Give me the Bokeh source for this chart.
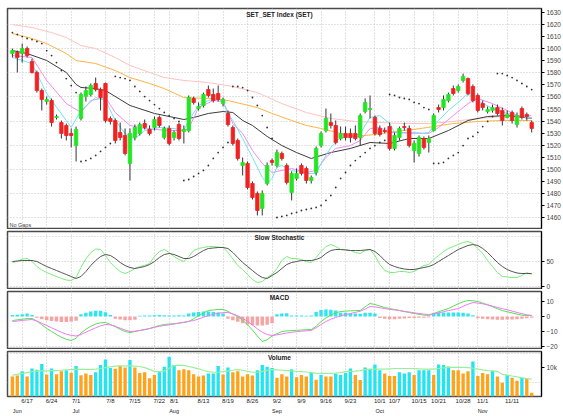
from bokeh.plotting import figure
from bokeh.models import Range1d, FixedTicker, LinearAxis, Label, ColumnDataSource, NumeralTickFormatter
from bokeh.layouts import column
from bokeh.embed import file_html
from bokeh.resources import INLINE

# ---------------- data ----------------
open_ = [1595.9, 1596.7, 1595.9, 1600.0, 1589.3, 1580.2, 1565.3, 1556.2, 1557.0, 1543.0,
         1538.8, 1536.4, 1529.8, 1519.8, 1542.2, 1560.3, 1562.0, 1571.1, 1566.1, 1571.1,
         1542.2, 1540.5, 1530.6, 1528.1, 1505.0, 1526.4, 1529.8, 1538.0, 1533.1, 1534.7,
         1543.0, 1526.4, 1533.9, 1526.4, 1537.2, 1531.4, 1532.2, 1558.7, 1550.4, 1552.9,
         1566.1, 1562.0, 1562.8, 1554.5, 1546.3, 1534.7, 1524.0, 1503.3, 1505.0, 1488.4,
         1480.2, 1467.8, 1488.4, 1507.4, 1503.3, 1513.2, 1503.3, 1481.0, 1492.6, 1503.3,
         1500.8, 1490.9, 1497.5, 1519.8, 1532.2, 1538.8, 1536.4, 1525.6, 1529.8, 1529.8,
         1529.8, 1526.4, 1547.9, 1549.6, 1543.0, 1533.9, 1532.2, 1535.5, 1517.4, 1526.4,
         1535.5, 1533.9, 1515.7, 1513.2, 1525.6, 1522.3, 1532.2, 1551.2, 1551.2, 1557.0,
         1566.9, 1565.3, 1573.6, 1575.2, 1568.6, 1561.2, 1554.5, 1547.9, 1548.8, 1551.2,
         1548.8, 1543.0, 1547.1, 1537.2, 1550.4, 1545.5, 1538.8]
close_ = [1598.3, 1592.6, 1600.0, 1594.2, 1580.2, 1565.3, 1557.9, 1557.9, 1538.8, 1543.8,
          1529.8, 1528.1, 1528.1, 1533.1, 1562.0, 1565.3, 1569.4, 1566.1, 1559.5, 1540.5,
          1539.7, 1524.0, 1526.4, 1513.2, 1529.8, 1534.7, 1537.2, 1534.7, 1529.8, 1541.3,
          1536.4, 1533.9, 1521.5, 1530.6, 1525.6, 1533.1, 1559.5, 1555.4, 1552.1, 1562.0,
          1561.2, 1557.0, 1557.9, 1557.9, 1537.2, 1521.5, 1509.1, 1505.8, 1485.1, 1476.9,
          1466.1, 1480.2, 1503.3, 1505.8, 1514.0, 1509.1, 1489.3, 1496.7, 1496.7, 1496.7,
          1490.9, 1493.4, 1517.4, 1529.8, 1542.2, 1536.4, 1522.3, 1529.8, 1526.4, 1526.4,
          1525.6, 1544.6, 1555.4, 1550.4, 1529.8, 1528.9, 1531.4, 1517.4, 1528.1, 1533.9,
          1534.7, 1519.8, 1521.5, 1526.4, 1518.2, 1525.6, 1544.6, 1549.6, 1557.9, 1562.0,
          1562.8, 1568.6, 1576.9, 1562.8, 1557.0, 1548.8, 1551.2, 1549.6, 1551.2, 1546.3,
          1540.5, 1545.5, 1540.5, 1544.6, 1543.0, 1543.8, 1533.9]
high_ = [1600.0, 1598.3, 1604.1, 1601.7, 1591.7, 1581.8, 1566.9, 1560.3, 1558.7, 1545.5,
         1540.5, 1538.0, 1533.9, 1535.5, 1563.6, 1568.6, 1571.1, 1576.0, 1567.7, 1571.9,
         1543.8, 1542.2, 1538.8, 1533.9, 1533.9, 1537.2, 1538.8, 1541.3, 1536.4, 1543.8,
         1544.6, 1535.5, 1536.4, 1532.2, 1538.8, 1536.4, 1561.2, 1560.3, 1555.4, 1563.6,
         1569.4, 1566.9, 1569.4, 1559.5, 1548.8, 1536.4, 1525.6, 1509.9, 1506.6, 1490.1,
         1481.8, 1482.7, 1505.8, 1509.1, 1516.5, 1514.8, 1505.0, 1498.4, 1500.8, 1505.0,
         1502.5, 1495.0, 1519.0, 1531.4, 1550.4, 1546.3, 1540.5, 1535.5, 1535.5, 1533.9,
         1536.4, 1546.3, 1558.7, 1561.2, 1544.6, 1536.4, 1534.7, 1538.8, 1530.6, 1535.5,
         1538.8, 1536.4, 1524.0, 1528.1, 1527.3, 1528.1, 1546.3, 1553.7, 1561.2, 1563.6,
         1569.4, 1570.3, 1579.3, 1576.0, 1570.3, 1562.8, 1557.0, 1552.1, 1553.7, 1553.7,
         1551.2, 1548.8, 1548.8, 1547.1, 1552.1, 1547.1, 1540.5]
low_ = [1592.6, 1580.2, 1588.4, 1592.6, 1579.3, 1563.6, 1548.8, 1553.7, 1535.5, 1541.3,
        1525.6, 1524.0, 1518.2, 1506.6, 1540.5, 1556.2, 1560.3, 1564.5, 1548.8, 1538.8,
        1537.2, 1521.5, 1524.0, 1511.6, 1490.9, 1524.0, 1528.1, 1533.1, 1528.1, 1532.2,
        1534.7, 1524.8, 1519.8, 1524.0, 1524.0, 1521.5, 1530.6, 1553.7, 1548.8, 1551.2,
        1559.5, 1555.4, 1556.2, 1552.1, 1535.5, 1519.8, 1507.4, 1495.0, 1483.5, 1475.2,
        1462.0, 1462.0, 1486.8, 1503.3, 1501.7, 1507.4, 1487.6, 1474.4, 1490.9, 1495.0,
        1488.4, 1488.4, 1495.0, 1518.2, 1530.6, 1533.9, 1520.7, 1524.0, 1524.0, 1522.3,
        1524.0, 1519.8, 1546.3, 1542.2, 1528.1, 1527.3, 1529.8, 1515.7, 1515.7, 1524.0,
        1532.2, 1518.2, 1505.8, 1510.7, 1516.5, 1514.0, 1531.4, 1547.1, 1548.8, 1555.4,
        1561.2, 1563.6, 1571.9, 1561.2, 1555.4, 1547.1, 1548.8, 1546.3, 1547.1, 1544.6,
        1536.4, 1542.2, 1538.0, 1534.7, 1541.3, 1540.5, 1530.6]

sar = [1613.2, 1611.6, 1609.9, 1608.3, 1607.4, 1605.8, 1604.1, 1598.3, 1594.2, 1588.4,
       1581.8, 1575.2, 1569.4, 1563.6, 1506.6, 1507.4, 1509.1, 1511.6, 1514.9, 1518.2,
       1521.5, 1576.9, 1576.0, 1575.2, 1573.6, 1568.6, 1564.5, 1560.3, 1557.0, 1553.7,
       1550.4, 1547.1, 1544.6, 1542.2, 1539.7, 1490.9, 1491.7, 1494.2, 1496.7, 1499.2,
       1503.3, 1509.1, 1514.0, 1518.2, 1522.3, 1568.6, 1568.6, 1567.7, 1565.3, 1559.5,
       1552.9, 1544.6, 1534.7, 1525.6, 1460.3, 1461.2, 1462.0, 1463.6, 1464.5, 1466.1,
       1466.9, 1467.8, 1468.6, 1470.3, 1474.4, 1478.5, 1485.1, 1492.6, 1497.5, 1503.3,
       1507.4, 1510.7, 1514.0, 1517.4, 1519.8, 1522.3, 1524.0, 1562.0, 1561.2, 1559.5,
       1558.7, 1557.9, 1555.4, 1554.5, 1551.2, 1549.6, 1505.0, 1505.0, 1505.8, 1509.1,
       1511.6, 1514.0, 1519.8, 1525.6, 1527.3, 1530.6, 1535.5, 1539.7, 1543.8, 1579.3,
       1579.3, 1577.7, 1576.0, 1573.6, 1571.1, 1568.6, 1566.1]

# moving averages (sampled where read)
pink_idx = [0, 4, 8, 11, 14, 17, 21, 24, 28, 31, 35, 40, 45, 50, 55, 60, 65, 70, 75, 80, 85, 90, 95, 100, 106]
pink_val = [1619.8, 1617.4, 1613.2, 1609.1, 1602.5, 1600.0, 1592.6, 1586.0, 1580.2, 1576.0, 1573.6, 1571.9,
            1568.6, 1563.6, 1554.5, 1547.1, 1542.2, 1539.7, 1538.8, 1538.0, 1538.0, 1539.7, 1542.2, 1543.8, 1544.6]
orange_idx = [0, 4, 7, 11, 13, 17, 21, 24, 28, 31, 35, 40, 44, 50, 53, 57, 60, 63, 67, 70, 74, 78, 82, 86, 90, 95, 100, 106]
orange_val = [1612.4, 1608.3, 1604.1, 1595.9, 1590.1, 1587.6, 1581.8, 1576.0, 1571.1, 1566.9, 1559.5, 1558.7,
              1557.0, 1551.2, 1546.3, 1540.5, 1536.4, 1533.9, 1529.8, 1527.3, 1528.9, 1531.4, 1533.1, 1535.5,
              1538.0, 1539.7, 1540.5, 1540.5]
black_idx = [0, 3, 7, 11, 13, 14, 17, 19, 24, 29, 33, 35, 37, 40, 43, 45, 47, 49, 52, 55, 58, 61, 65, 69, 73,
             77, 81, 85, 89, 93, 97, 101, 106]
black_val = [1598.3, 1595.9, 1590.1, 1580.2, 1570.3, 1567.8, 1566.9, 1565.3, 1552.9, 1546.3, 1543.0, 1541.3,
             1543.0, 1546.3, 1547.9, 1547.1, 1540.5, 1536.4, 1527.3, 1519.8, 1514.0, 1509.1, 1514.0, 1517.4,
             1522.3, 1521.5, 1525.6, 1525.6, 1532.2, 1540.5, 1543.8, 1544.6, 1542.2]
magenta_idx = [0, 4, 7, 11, 14, 16, 19, 21, 24, 27, 32, 35, 36, 38, 41, 43, 44, 45, 47, 49, 51, 53, 55, 57, 60,
               62, 64, 66, 69, 71, 73, 75, 77, 81, 85, 87, 90, 93, 95, 98, 101, 103, 106]
magenta_val = [1594.2, 1592.6, 1573.6, 1554.5, 1547.1, 1557.0, 1559.5, 1547.1, 1536.4, 1533.9, 1532.2, 1532.2,
               1533.9, 1551.2, 1557.0, 1556.2, 1547.1, 1538.0, 1529.8, 1515.7, 1505.0, 1497.5, 1499.2, 1500.8,
               1497.5, 1499.2, 1509.9, 1517.4, 1519.8, 1524.0, 1533.9, 1534.7, 1530.6, 1530.6, 1529.8, 1534.7,
               1544.6, 1554.5, 1558.7, 1554.5, 1548.8, 1544.6, 1543.0]
cyan_idx = [0, 4, 7, 11, 12, 14, 17, 19, 21, 23, 25, 27, 30, 33, 35, 36, 38, 40, 42, 43, 44, 45, 47, 49, 51, 52,
            53, 54, 55, 57, 60, 62, 63, 65, 67, 69, 71, 72, 73, 75, 77, 78, 81, 84, 85, 87, 89, 91, 93, 95, 98,
            101, 103, 106]
cyan_val = [1592.6, 1587.6, 1562.8, 1540.5, 1534.7, 1548.8, 1559.5, 1557.0, 1540.5, 1529.8, 1525.6, 1532.2,
            1534.7, 1533.9, 1532.2, 1540.5, 1552.9, 1557.0, 1558.7, 1555.4, 1546.3, 1540.5, 1525.6, 1509.9,
            1493.4, 1488.4, 1492.6, 1501.7, 1503.3, 1499.2, 1496.7, 1496.7, 1505.0, 1518.2, 1526.4, 1526.4,
            1529.8, 1536.4, 1543.0, 1544.6, 1538.0, 1530.6, 1529.8, 1529.8, 1530.6, 1540.5, 1548.8, 1555.4,
            1562.8, 1557.0, 1550.4, 1546.3, 1544.6, 1542.2]

stoch_k = [48, 50, 55, 56, 50, 40, 33, 28, 24, 20, 16, 13, 12, 18, 38, 55, 68, 75, 74, 62,
           48, 38, 30, 26, 30, 36, 40, 42, 46, 60, 70, 74, 68, 60, 54, 50, 60, 72, 76, 78,
           80, 80, 79, 78, 68, 55, 42, 34, 24, 14, 8, 10, 18, 24, 36, 52, 60, 56, 56, 54,
           50, 48, 58, 70, 80, 84, 80, 74, 74, 72, 68, 66, 72, 74, 62, 44, 32, 28, 28, 30,
           30, 28, 30, 36, 42, 44, 54, 62, 70, 76, 80, 84, 88, 90, 86, 76, 66, 52, 40, 28,
           20, 19, 18, 18, 22, 28, 24]
stoch_d = [50, 51, 52, 52, 52, 50, 45, 40, 36, 32, 28, 24, 20, 16, 20, 30, 42, 52, 60, 64,
           62, 56, 48, 42, 38, 36, 38, 40, 44, 50, 58, 64, 66, 64, 60, 56, 56, 60, 66, 72,
           76, 77, 78, 78, 76, 68, 58, 48, 40, 32, 24, 18, 16, 22, 28, 36, 44, 48, 50, 52,
           52, 52, 54, 58, 66, 72, 74, 74, 73, 72, 72, 72, 73, 74, 70, 62, 52, 44, 40, 37,
           35, 34, 34, 36, 38, 40, 44, 50, 56, 62, 68, 74, 78, 82, 84, 82, 76, 68, 58, 48,
           40, 34, 30, 27, 26, 26, 26]

macd = [-2.7, -2.2, -1.8, -1.4, -1.3, -3.0, -5.5, -8.0, -10.0, -12.0, -13.8, -15.2, -16.0, -14.5, -11.0,
        -8.5, -6.5, -5.0, -4.2, -4.0, -5.2, -6.8, -8.5, -10.0, -10.7, -10.0, -9.3, -8.8, -8.0, -7.0,
        -6.0, -5.3, -5.0, -4.8, -4.4, -4.0, -3.3, -1.5, 0.5, 2.5, 4.0, 4.4, 4.7, 4.7, 3.5,
        1.5, 0.0, -2.5, -5.5, -9.0, -13.0, -16.7, -15.5, -13.0, -11.5, -10.0, -9.6, -9.4, -9.2, -9.0,
        -8.8, -8.7, -6.5, -3.3, -1.0, 1.0, 2.5, 3.3, 3.6, 3.8, 4.0, 4.0, 6.5, 8.7, 8.0,
        7.0, 6.0, 5.3, 4.7, 4.0, 3.3, 2.7, 2.0, 1.5, 1.0, 0.7, 2.0, 3.2, 4.3, 5.3,
        7.0, 8.5, 9.8, 10.7, 10.5, 10.0, 9.0, 7.8, 6.5, 5.2, 4.0, 3.2, 2.4, 1.6, 0.9, 0.7, 0.7]
signal = [-3.3, -3.0, -2.6, -2.3, -2.0, -3.0, -4.5, -6.0, -7.5, -9.0, -10.5, -11.8, -12.6, -13.0, -12.0,
          -10.5, -9.0, -7.5, -6.2, -5.3, -5.6, -6.5, -7.8, -9.0, -10.0, -9.8, -9.3, -8.7, -8.0, -7.2,
          -6.5, -6.0, -5.5, -5.0, -4.4, -3.8, -3.2, -2.7, -1.6, -0.5, 0.6, 1.5, 2.2, 2.6, 2.7,
          1.8, 0.5, -1.2, -3.3, -5.6, -8.2, -10.5, -12.0, -12.7, -12.2, -11.6, -11.0, -10.5, -10.1, -9.8,
          -9.5, -9.3, -7.5, -5.3, -3.3, -1.8, -0.6, 0.4, 1.3, 2.0, 2.8, 3.5, 5.0, 6.7, 6.4,
          5.9, 5.3, 4.8, 4.4, 4.0, 3.5, 3.0, 2.5, 2.0, 1.6, 1.3, 1.8, 2.5, 3.2, 4.0,
          4.6, 5.3, 6.8, 8.2, 9.3, 9.0, 8.5, 7.8, 7.0, 6.0, 5.3, 4.5, 3.6, 2.7, 1.9, 1.2, 0.7]
hist = [1.0, 1.2, 1.5, 2.0, 1.0, -0.8, -1.8, -2.5, -3.0, -3.3, -3.6, -3.6, -3.3, -2.8, 1.5,
        2.5, 3.3, 3.8, 3.8, 2.8, 1.0, -1.5, -2.0, -2.5, -2.5, -2.2, 0.5, 0.7, 0.7, 0.8,
        1.0, 0.8, 0.7, 0.7, 0.8, 0.7, 2.0, 2.7, 3.0, 3.3, 3.3, 3.0, 2.7, 2.0, -1.5,
        -2.5, -3.5, -4.5, -5.3, -5.8, -6.0, -6.0, -5.5, -4.5, 1.5, 2.0, 2.2, 0.7, 0.7, 0.7,
        0.6, 0.7, 3.0, 4.3, 4.7, 4.5, 4.0, 2.5, 2.5, 2.2, 2.0, 1.8, 2.5, 2.5, 2.0,
        -1.0, -1.5, -1.8, -1.8, -1.5, -1.3, -1.0, -1.0, -0.8, -0.8, -0.6, 2.0, 2.5, 2.7, 2.7,
        2.7, 2.7, 2.5, 2.0, 0.8, -1.2, -1.5, -1.8, -2.0, -2.2, -2.2, -2.0, -2.0, -1.8, -1.5, -1.2, -0.8]

volume = [6960, 7250, 8720, 6960, 9700, 9310, 11270, 7640, 9700, 7740,
          8720, 9110, 8230, 10580, 7350, 7940, 7450, 8430, 10880, 12840,
          9900, 9600, 10580, 10090, 12640, 10090, 8130, 8430, 6370, 7450,
          8720, 10290, 13820, 10880, 9110, 9410, 9110, 7740, 6960, 7250,
          7940, 7940, 10580, 7640, 10090, 8430, 8720, 6960, 7740, 7250,
          9110, 10880, 10290, 9900, 6470, 7740, 6960, 9410, 6670, 7450,
          6960, 8130, 5780, 7450, 6960, 6960, 7940, 7450, 8130, 9700,
          7450, 5690, 10090, 9600, 11070, 9110, 7940, 7150, 7150, 8430,
          7940, 8430, 7450, 9110, 9110, 9110, 7450, 11070, 10880, 10380,
          9110, 9110, 7940, 8720, 12150, 7150, 8130, 7740, 8920, 6960,
          4800, 7450, 6470, 5490, 6470, 6170, 1270]
# C = cyan bar, O = orange bar
volume_kind = list("OOCOCCCOCO" "OCOCOOOCCC" "COOOCOOOOO" "CCCCOOOOOO" "CCCOCOOOOO"
                   "CCCCOOOCOO" "OCOCOOCCCC" "OOCCCCOOOC" "CCOCCCOCCC" "OOOOCOOOCO" "OCOOCOO")
volume_ma = [7400, 7700, 8000, 8300, 8600, 8800, 8900, 8900, 9000, 9000,
             9100, 9200, 9300, 9400, 9400, 9400, 9400, 9500, 9700, 10000,
             10300, 10500, 10600, 10600, 10600, 10500, 10400, 10000, 9400, 8700,
             8500, 8800, 9800, 10700, 10900, 10800, 10400, 10000, 9600, 9000,
             8600, 8400, 8400, 8600, 8900, 9100, 9300, 9100, 8700, 8400,
             8400, 8700, 9100, 9300, 9200, 9100, 9000, 8900, 8700, 8600,
             8500, 8300, 8100, 8000, 8000, 8000, 8100, 8300, 8600, 8700,
             8800, 9000, 9300, 9400, 9500, 9500, 9500, 9600, 9700, 9700,
             9700, 9700, 9700, 9600, 9500, 9500, 9500, 9700, 9900, 10100,
             10100, 10100, 10100, 10000, 9800, 9500, 9200, 9000, 8900, 8700,
             7700, 7400, 7100, 6800, 6500, 6200, 6000]

date_ticks = [2, 7, 12, 19, 24, 29, 32, 38, 43, 48, 53, 58, 63, 68, 74, 77, 82, 86, 91, 95, 101]
date_labels = ["6/17", "6/24", "7/1", "7/8", "7/15", "7/22", "8/1", "8/13", "8/19", "8/26", "9/2",
               "9/9", "9/16", "9/23", "10/1", "10/7", "10/15", "10/21", "10/28", "11/1", "11/11"]
month_ticks = [0, 12, 32, 53, 74, 95]
month_labels = ["Jun", "Jul", "Aug", "Sep", "Oct", "Nov"]

price_ticks = list(range(1460, 1640, 10))
price_grid = list(range(1460, 1640, 20))

# ---------------- styling ----------------
FONT = "Liberation Sans"
UP, DN = "#22e622", "#f02222"
N = len(close_)
days = list(range(N))
xr = Range1d(-1, 108)


def make_fig(h, top, bottom, y0, y1):
    p = figure(width=563, height=h, x_range=xr, y_range=Range1d(y0, y1),
               output_backend="svg", toolbar_location=None,
               x_axis_location=None, y_axis_location="right",
               min_border_left=7, min_border_right=20, min_border_top=top,
               min_border_bottom=bottom)
    p.outline_line_color = "#4a4a4a"
    p.outline_line_width = 1.5
    ax = p.yaxis[0]
    ax.axis_line_color = "#000000"
    ax.major_tick_out = 3
    ax.major_tick_in = 0
    ax.minor_tick_line_color = None
    ax.major_label_text_font_size = "6.5px"
    ax.major_label_text_font = FONT
    ax.major_label_standoff = 2
    p.xgrid.ticker = FixedTicker(ticks=date_ticks)
    for g in (p.xgrid, p.ygrid):
        g.grid_line_color = "#c4c4c4"
        g.grid_line_dash = "1 2"
    return p


def title(p, text, y):
    p.add_layout(Label(x=54.5, y=y, text=text, text_align="center", text_baseline="top",
                       y_offset=-2, text_font=FONT, text_font_size="6.5px",
                       text_font_style="bold", text_color="#222222"))


# ---- main price panel ----
p1 = make_fig(229, 8, 1, 1451.2, 1633.1)
p1.yaxis[0].ticker = FixedTicker(ticks=price_ticks)
p1.ygrid.ticker = FixedTicker(ticks=price_grid)

p1.line(pink_idx, pink_val, color="#ffc2c2", line_width=1)
p1.line(orange_idx, orange_val, color="#ffb347", line_width=1)
p1.line(black_idx, black_val, color="#3c3c3c", line_width=1)
p1.line(magenta_idx, magenta_val, color="#f08cf0", line_width=1)
p1.line(cyan_idx, cyan_val, color="#6ee4f2", line_width=1)

csrc = ColumnDataSource(dict(
    x=days, low=low_, high=high_,
    top=[max(o, c) for o, c in zip(open_, close_)],
    bottom=[min(o, c) for o, c in zip(open_, close_)],
    color=[UP if c >= o else DN for o, c in zip(open_, close_)]))
p1.segment(x0="x", y0="low", x1="x", y1="high", source=csrc, color="#333333", line_width=1)
p1.vbar(x="x", width=0.7, top="top", bottom="bottom", source=csrc,
        fill_color="color", line_color="color", line_width=0.8)
p1.scatter(days, sar, size=1.8, marker="circle", fill_color="#333333", line_color=None)

title(p1, "SET_SET Index (SET)", 1633.1)
p1.add_layout(Label(x=-0.6, y=1451.2, text="No Gaps", text_baseline="bottom", y_offset=1,
                    text_font=FONT, text_font_size="5.5px", text_color="#444444"))

# ---- slow stochastic ----
p2 = make_fig(60, 2, 0, -6, 110)
p2.yaxis[0].ticker = FixedTicker(ticks=[0, 50])
p2.ygrid.ticker = FixedTicker(ticks=[0, 50, 100])
p2.line(days, stoch_k, color="#7aee7a", line_width=1)
p2.line(days, stoch_d, color="#555555", line_width=1)
title(p2, "Slow Stochastic", 110)

# ---- MACD ----
p3 = make_fig(60, 2, 0, -22, 16.7)
p3.yaxis[0].ticker = FixedTicker(ticks=[-20, -10, 0, 10])
p3.ygrid.ticker = FixedTicker(ticks=[-20])
p3.vbar(x=days, width=0.7, top=hist, bottom=0,
        fill_color=["#2ee6f2" if h >= 0 else "#f7a3a3" for h in hist],
        line_color=None)
p3.line(days, macd, color="#55e055", line_width=1)
p3.line(days, signal, color="#f07af0", line_width=1)
title(p3, "MACD", 16.7)

# ---- volume ----
p4 = make_fig(67, 2, 0, 0, 15600)
p4.yaxis[0].ticker = FixedTicker(ticks=[10000])
p4.yaxis[0].formatter = NumeralTickFormatter(format="0a")
p4.ygrid.ticker = FixedTicker(ticks=[5000, 15000])
p4.vbar(x=days, width=0.68, top=volume, bottom=0,
        fill_color=["#22e4f2" if k == "C" else "#ffa31a" for k in volume_kind],
        line_color=None)
p4.line(days, volume_ma, color="#9af09a", line_width=1.2)
title(p4, "Volume", 15600)

ax_d = LinearAxis(ticker=FixedTicker(ticks=[t + 1 for t in date_ticks]),
                  major_label_overrides={t + 1: s for t, s in zip(date_ticks, date_labels)})
ax_m = LinearAxis(ticker=FixedTicker(ticks=[t + 1 for t in month_ticks]),
                  major_label_overrides={t + 1: s for t, s in zip(month_ticks, month_labels)})
for ax, fs in ((ax_d, "6px"), (ax_m, "5.5px")):
    ax.axis_line_color = None
    ax.major_tick_out = 0
    ax.major_tick_in = 0
    ax.minor_tick_line_color = None
    ax.major_label_standoff = 1
    ax.major_label_text_font = FONT
    ax.major_label_text_font_size = fs
    ax.major_label_text_color = "#222222"
p4.add_layout(ax_d, "below")
p4.add_layout(ax_m, "below")

layout = column(p1, p2, p3, p4, spacing=0)
open("out.html", "w").write(file_html(layout, INLINE))
